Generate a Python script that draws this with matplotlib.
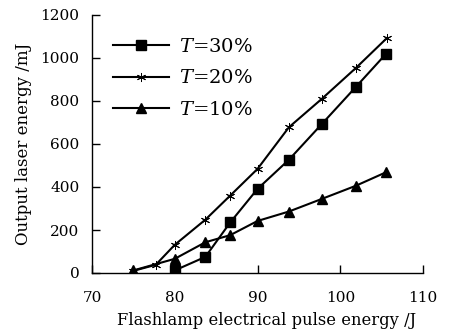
import matplotlib
matplotlib.use("Agg")
import matplotlib.pyplot as plt

x30 = [80.0, 83.7, 86.7, 90.0, 93.8, 97.8, 101.9, 105.5]
y30 = [12, 75, 235, 391, 527, 694, 866, 1018]
x20 = [75.0, 77.7, 80.0, 83.7, 86.7, 90.0, 93.8, 97.8, 101.9, 105.7]
y20 = [10, 38, 131, 248, 360, 484, 678, 811, 954, 1095]
x10 = [75.0, 80.0, 83.7, 86.7, 90.0, 93.8, 97.8, 101.9, 105.5]
y10 = [12, 66, 143, 176, 242, 286, 345, 406, 468]
labels = ["$T$=30%", "$T$=20%", "$T$=10%"]
xticks = [70, 80, 90, 100, 110]
yticks = [0, 200, 400, 600, 800, 1000, 1200]

plt.rcParams['font.family'] = ['DejaVu Serif']
plt.rcParams['mathtext.fontset'] = 'dejavuserif'

fig = plt.figure(figsize=(4.49, 3.35), dpi=100)
ax = fig.add_axes([92/449, 1-273/335, (423-92)/449, (273-15)/335])

ax.plot(x30, y30, color='black', lw=1.5, marker='s', ms=6.5, label=labels[0])
ax.plot(x20, y20, color='black', lw=1.5, marker=(6, 2, 0), ms=6.5, mew=0.7, label=labels[1])
ax.plot(x10, y10, color='black', lw=1.5, marker='^', ms=7, label=labels[2])

ax.set_xlim(70, 110)
ax.set_ylim(0, 1200)
ax.set_xticks(xticks)
ax.set_yticks(yticks)
for s in ['top', 'right']:
    ax.spines[s].set_visible(False)
for s in ['left', 'bottom']:
    ax.spines[s].set_linewidth(1.0)
ax.tick_params(direction='in', length=6, width=1.0, labelsize=11)
ax.tick_params(axis='y', pad=9)
ax.tick_params(axis='x', pad=13)
ax.set_xlabel('Flashlamp electrical pulse energy /J', fontsize=11.8)
ax.xaxis.set_label_coords((266.5 - 92) / 331, (273 - 312) / 258)
ax.set_ylabel('Output laser energy /mJ', fontsize=12, labelpad=6)

leg = ax.legend(loc='upper left', frameon=False, fontsize=14, handlelength=2.9,
                bbox_to_anchor=(0.01, 0.978), labelspacing=0.68, handletextpad=0.5)

fig.savefig('out.png', dpi=100)
